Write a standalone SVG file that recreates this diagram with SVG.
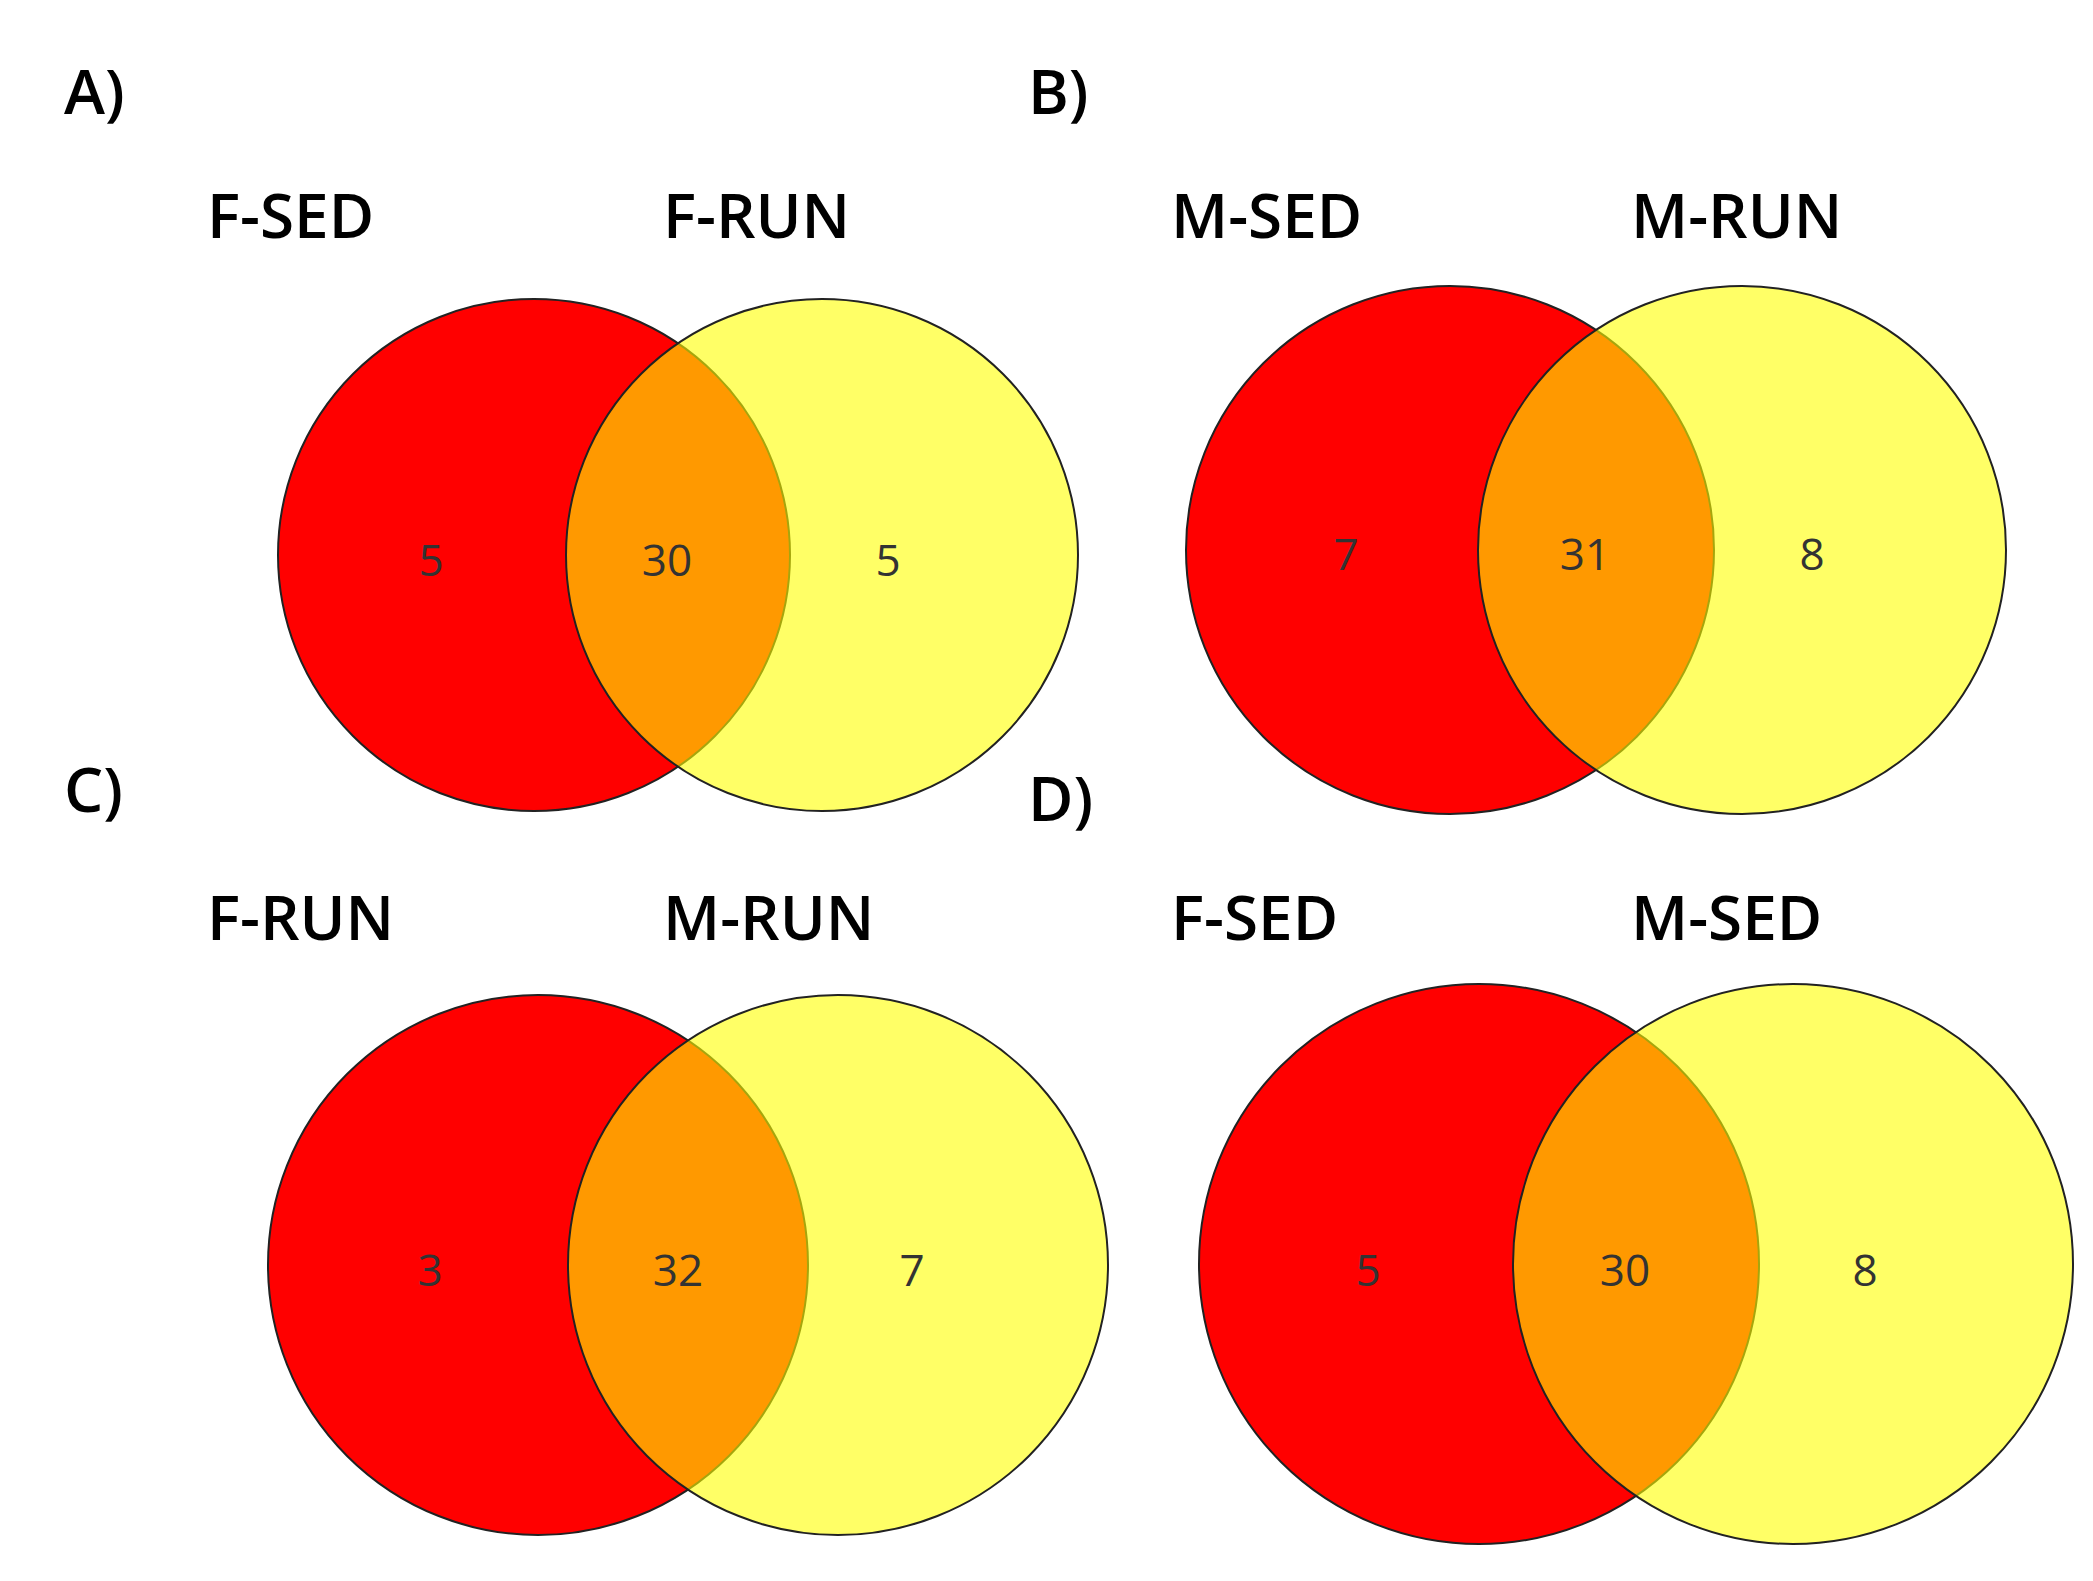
<svg xmlns="http://www.w3.org/2000/svg" width="2093" height="1581" viewBox="0 0 2093 1581">
<style>
.red{fill:#ff0000;stroke:#222;stroke-width:2}
.yel{fill:#ffff00;fill-opacity:0.6;stroke:#222;stroke-width:2}
.lab{font-family:"Open Sans",sans-serif;font-weight:600;font-size:62px;fill:#000}
.num{font-family:"Open Sans",sans-serif;font-size:44px;fill:#333;text-anchor:middle}
</style>
<rect width="2093" height="1581" fill="#fff"/>
<g id="A">
<text class="lab" x="64" y="114">A)</text>
<text class="lab" x="207" y="238">F-SED</text>
<text class="lab" x="663" y="238">F-RUN</text>
<circle class="red" cx="534" cy="555" r="256"/>
<circle class="yel" cx="822" cy="555" r="256"/>
<text class="num" x="431" y="576">5</text>
<text class="num" x="667" y="576">30</text>
<text class="num" x="888" y="576">5</text>
</g>
<g id="B">
<text class="lab" x="1028" y="114">B)</text>
<text class="lab" x="1171" y="238">M-SED</text>
<text class="lab" x="1631" y="238">M-RUN</text>
<circle class="red" cx="1450" cy="550" r="264"/>
<circle class="yel" cx="1742" cy="550" r="264"/>
<text class="num" x="1346" y="570">7</text>
<text class="num" x="1585" y="570">31</text>
<text class="num" x="1812" y="570">8</text>
</g>
<g id="C">
<text class="lab" x="64" y="812">C)</text>
<text class="lab" x="207" y="940">F-RUN</text>
<text class="lab" x="663" y="940">M-RUN</text>
<circle class="red" cx="538" cy="1265" r="270"/>
<circle class="yel" cx="838" cy="1265" r="270"/>
<text class="num" x="430" y="1286">3</text>
<text class="num" x="678" y="1286">32</text>
<text class="num" x="912" y="1286">7</text>
</g>
<g id="D">
<text class="lab" x="1028" y="821">D)</text>
<text class="lab" x="1171" y="940">F-SED</text>
<text class="lab" x="1631" y="940">M-SED</text>
<circle class="red" cx="1479" cy="1264" r="280"/>
<circle class="yel" cx="1793" cy="1264" r="280"/>
<text class="num" x="1368" y="1286">5</text>
<text class="num" x="1625" y="1286">30</text>
<text class="num" x="1865" y="1286">8</text>
</g>
</svg>
